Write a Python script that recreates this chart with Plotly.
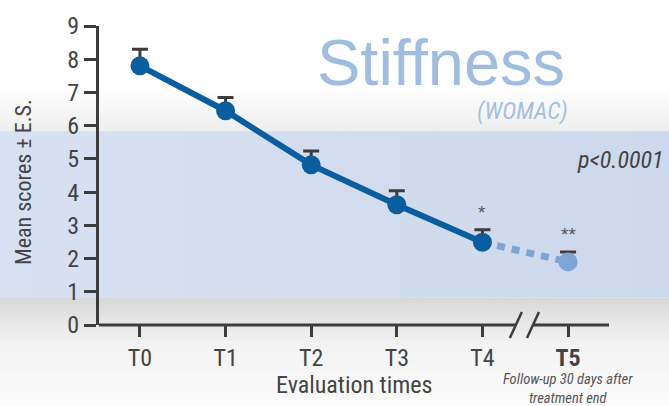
import plotly.graph_objects as go

# Evaluation times and mean WOMAC stiffness scores (± standard error)
times = ["T0", "T1", "T2", "T3", "T4", "T5"]
tick_text = ["T0", "T1", "T2", "T3", "T4", "<b>T5</b>"]
means = [7.8, 6.45, 4.82, 3.62, 2.49, 1.9]
se = [0.5, 0.4, 0.42, 0.42, 0.38, 0.3]
signif = ["", "", "", "", "*", "**"]

W, H = 669, 406
L, R, T, B = 99, 60, 24, 81
PW, PH = W - L - R, H - T - B
X_RANGE = [-0.478, 5.478]
Y_RANGE = [0, 9]

DARK_BLUE = "rgb(10,94,160)"
LIGHT_BLUE = "rgb(127,165,214)"
AXIS_COL = "#3c3c3c"
NARROW = "Liberation Sans Narrow, Arial Narrow, Roboto Condensed, sans-serif"
SANS = "Liberation Sans, Arial, sans-serif"


def px_x(px):
    return (px - L) / PW


def px_y(py):
    return (H - B - py) / PH


def data_x(v):
    return (v - X_RANGE[0]) / (X_RANGE[1] - X_RANGE[0])


def lerp(c0, c1, t):
    return tuple(round(a + (b - a) * t) for a, b in zip(c0, c1))


shapes = []


def vgrad(y0, y1, c0, c1, n):
    step = (y1 - y0) / n
    for i in range(n):
        c = lerp(c0, c1, (i + 0.5) / n)
        shapes.append(dict(
            type="rect", xref="paper", yref="paper", layer="below",
            x0=px_x(0), x1=px_x(W), y0=px_y(y0 + i * step), y1=px_y(y0 + (i + 1) * step + 0.6),
            fillcolor="rgb(%d,%d,%d)" % c, line=dict(width=0)))


def hgrad(y0, y1, c0, c1, n):
    step = W / n
    for i in range(n):
        c = lerp(c0, c1, (i + 0.5) / n)
        shapes.append(dict(
            type="rect", xref="paper", yref="paper", layer="below",
            x0=px_x(i * step), x1=px_x((i + 1) * step + 0.6), y0=px_y(y0), y1=px_y(y1),
            fillcolor="rgb(%d,%d,%d)" % c, line=dict(width=0)))


# page background: white fading to grey, blue band, grey fading back to white
vgrad(85, 130, (255, 255, 255), (238, 238, 238), 30)
hgrad(130, 297, (216, 225, 241), (205, 216, 236), 40)
vgrad(297, 345, (216, 216, 216), (243, 243, 243), 30)
vgrad(345, 406, (243, 243, 243), (251, 251, 251), 20)

# x axis baseline with a break between T4 and T5
brk, gap = 4.49, 0.1
for x0, x1 in [(X_RANGE[0], brk - gap), (brk + gap, X_RANGE[1])]:
    shapes.append(dict(type="line", xref="paper", yref="paper", layer="above",
                       x0=data_x(x0), x1=data_x(x1), y0=0, y1=0,
                       line=dict(color=AXIS_COL, width=3)))
for cx in (brk - gap, brk + gap):
    shapes.append(dict(type="line", xref="paper", yref="paper", layer="above",
                       x0=data_x(cx - 0.07), x1=data_x(cx + 0.07),
                       y0=px_y(338), y1=px_y(312),
                       line=dict(color=AXIS_COL, width=2.5)))

fig = go.Figure()

# follow-up segment T4 -> T5
fig.add_trace(go.Scatter(
    x=[4, 5], y=means[4:6], mode="lines",
    line=dict(color=LIGHT_BLUE, width=7, dash="8px,7px"),
    hoverinfo="skip", showlegend=False))

# treatment period T0 -> T4
fig.add_trace(go.Scatter(
    x=list(range(5)), y=means[:5], mode="lines+markers",
    line=dict(color=DARK_BLUE, width=6),
    marker=dict(color=DARK_BLUE, size=19),
    error_y=dict(type="data", symmetric=False, array=se[:5], arrayminus=[0] * 5,
                 color=AXIS_COL, thickness=3, width=8),
    showlegend=False))

# follow-up point T5
fig.add_trace(go.Scatter(
    x=[5], y=[means[5]], mode="markers",
    marker=dict(color=LIGHT_BLUE, size=19),
    error_y=dict(type="data", symmetric=False, array=[se[5]], arrayminus=[0],
                 color=AXIS_COL, thickness=3, width=8),
    showlegend=False))

annotations = []
for i, s in enumerate(signif):
    if s:
        annotations.append(dict(
            x=i, y=means[i] + se[i], xref="x", yref="y", text=s, showarrow=False,
            xanchor="center", yanchor="middle", yshift=17,
            font=dict(family=SANS, size=19, color="#555")))


def label(px, py, text, font, xanchor="center", **kw):
    annotations.append(dict(x=px_x(px), y=px_y(py), xref="paper", yref="paper",
                            text=text, showarrow=False, xanchor=xanchor,
                            yanchor="middle", font=font, **kw))


label(441, 61, "Stiffness", dict(family=SANS, size=65, color="rgb(159,189,224)"))
label(570, 110, "<i>(WOMAC)</i>", dict(family=NARROW, size=24, color="rgb(166,191,224)"),
      xanchor="right")
label(666, 159, "<i>p<0.0001</i>", dict(family=NARROW, size=24, color="#444"),
      xanchor="right")
label(354, 385, "Evaluation times", dict(family=NARROW, size=24, color="#444"))
label(24, 181, "Mean scores ± E.S.", dict(family=NARROW, size=22, color="#444"),
      textangle=-90)
annotations.append(dict(x=data_x(5), y=px_y(389.5), xref="paper", yref="paper",
                        text="<i>Follow-up 30 days after<br>treatment end</i>",
                        showarrow=False, xanchor="center", yanchor="middle",
                        font=dict(family=NARROW, size=14.5, color="#555")))

fig.update_layout(
    width=W, height=H, margin=dict(l=L, r=R, t=T, b=B, pad=0),
    paper_bgcolor="white", plot_bgcolor="rgba(0,0,0,0)",
    shapes=shapes, annotations=annotations,
    xaxis=dict(range=X_RANGE, tickmode="array", tickvals=list(range(len(times))),
               ticktext=tick_text, showgrid=False, zeroline=False, showline=False,
               ticks="outside", ticklen=11, tickwidth=2.5, tickcolor=AXIS_COL,
               tickfont=dict(family=NARROW, size=24, color="#444")),
    yaxis=dict(range=Y_RANGE, tickmode="array", tickvals=list(range(10)),
               showgrid=False, zeroline=False, showline=True, linewidth=3,
               linecolor=AXIS_COL, ticks="outside", ticklen=12, tickwidth=2.5,
               tickcolor=AXIS_COL, tickfont=dict(family=NARROW, size=24, color="#444")),
)

fig.write_html("out.html")
